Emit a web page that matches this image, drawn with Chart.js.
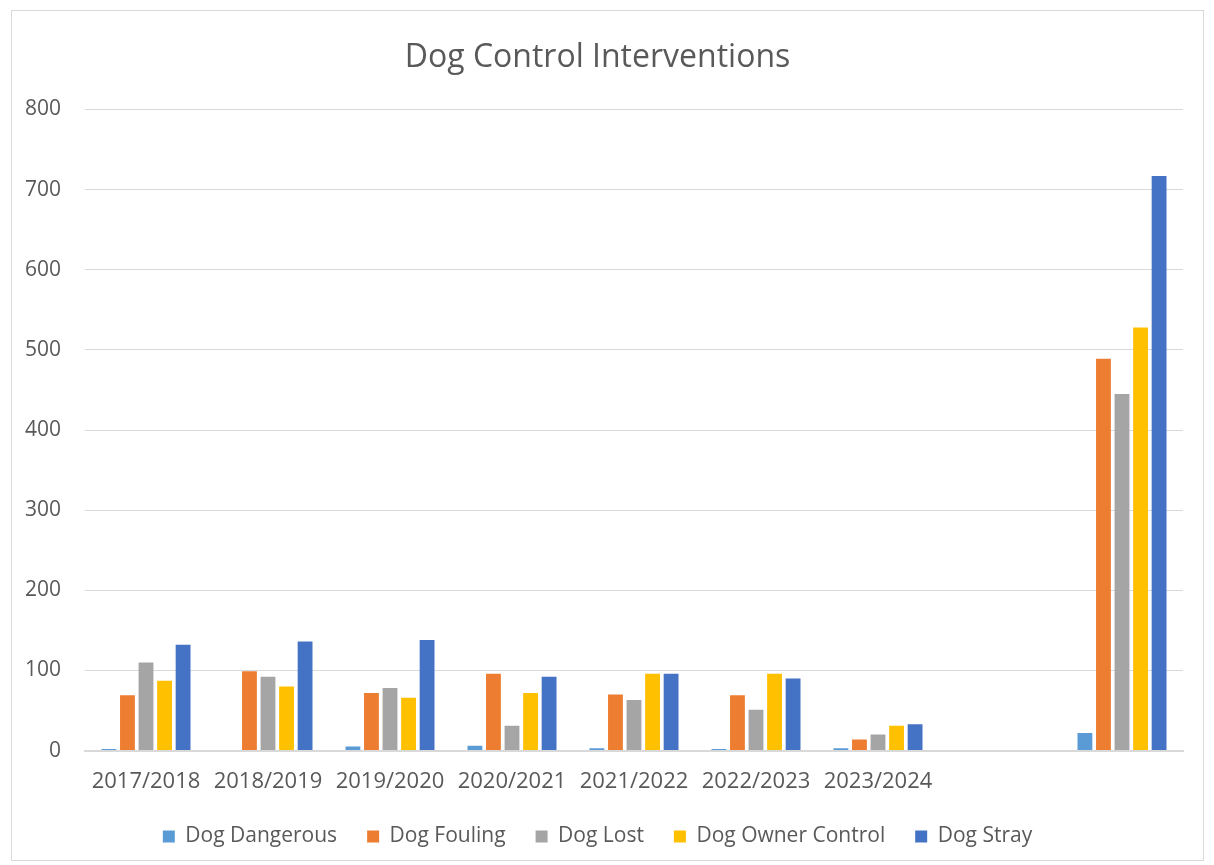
<!DOCTYPE html>
<html lang="en">
  <head>
    <meta charset="UTF-8">
    <title>Dog Control Interventions</title>
    <script src="https://cdn.jsdelivr.net/npm/chart.js@4"></script>
    <style>
      html, body { margin: 0; padding: 0; background: #ffffff; }
      #frame {
        position: absolute; left: 11px; top: 10px;
        width: 1191px; height: 849px;
        border: 1px solid #d9d9d9; background: #ffffff;
      }
    </style>
  </head>
  <body>
    <div id="frame"><canvas id="chart" width="1191" height="849"></canvas></div>
    <script type="text/javascript">
      const periods = ['2017/2018', '2018/2019', '2019/2020', '2020/2021', '2021/2022', '2022/2023', '2023/2024', '', '']
      const dogDangerous = [2, 0, 5, 6, 3, 2, 3, null, 22]
      const dogFouling = [69, 99, 72, 96, 70, 69, 14, null, 489]
      const dogLost = [110, 92, 78, 31, 63, 51, 20, null, 445]
      const dogOwnerControl = [87, 80, 66, 72, 96, 96, 31, null, 528]
      const dogStray = [132, 136, 138, 92, 96, 90, 33, null, 717]

      const font = 'Open Sans'
      const grey = '#595959'

      // legend padding also sets the gap between items; the x axis gives back the extra height
      const legendGap = 30

      const bar = (label, data, color) => ({
        label: label,
        data: data,
        backgroundColor: color,
        borderWidth: 0,
        barPercentage: 0.8,
        categoryPercentage: 0.76
      })

      const ctx = document.getElementById('chart').getContext('2d')
      const chart = new Chart(ctx, {
        type: 'bar',
        data: {
          labels: periods,
          datasets: [
            bar('Dog Dangerous', dogDangerous, '#5b9bd5'),
            bar('Dog Fouling', dogFouling, '#ed7d31'),
            bar('Dog Lost', dogLost, '#a5a5a5'),
            bar('Dog Owner Control', dogOwnerControl, '#ffc000'),
            bar('Dog Stray', dogStray, '#4472c4')
          ]
        },
        options: {
          responsive: false,
          animation: false,
          layout: { padding: { top: 8, right: 20, bottom: 3, left: 0 } },
          plugins: {
            title: {
              display: true,
              text: 'Dog Control Interventions',
              color: grey,
              font: { family: font, size: 32, weight: 'normal' },
              padding: { top: 20, bottom: 32 }
            },
            legend: {
              position: 'bottom',
              labels: {
                color: grey,
                font: { family: font, size: 21 },
                boxWidth: 12,
                boxHeight: 12,
                padding: legendGap
              }
            },
            tooltip: { enabled: false }
          },
          scales: {
            x: {
              afterFit: (axis) => { axis.height -= legendGap - 21 },
              grid: { display: false },
              border: { color: '#d9d9d9', width: 2 },
              ticks: { color: grey, font: { family: font, size: 22 }, padding: 10, maxRotation: 0, autoSkip: false }
            },
            y: {
              min: 0,
              max: 800,
              afterFit: (axis) => { axis.width = 73 },
              grid: { color: '#d9d9d9', drawTicks: false },
              border: { display: false },
              ticks: { stepSize: 100, color: grey, font: { family: font, size: 21 }, padding: 24 }
            }
          }
        }
      })
    </script>
  </body>
</html>
